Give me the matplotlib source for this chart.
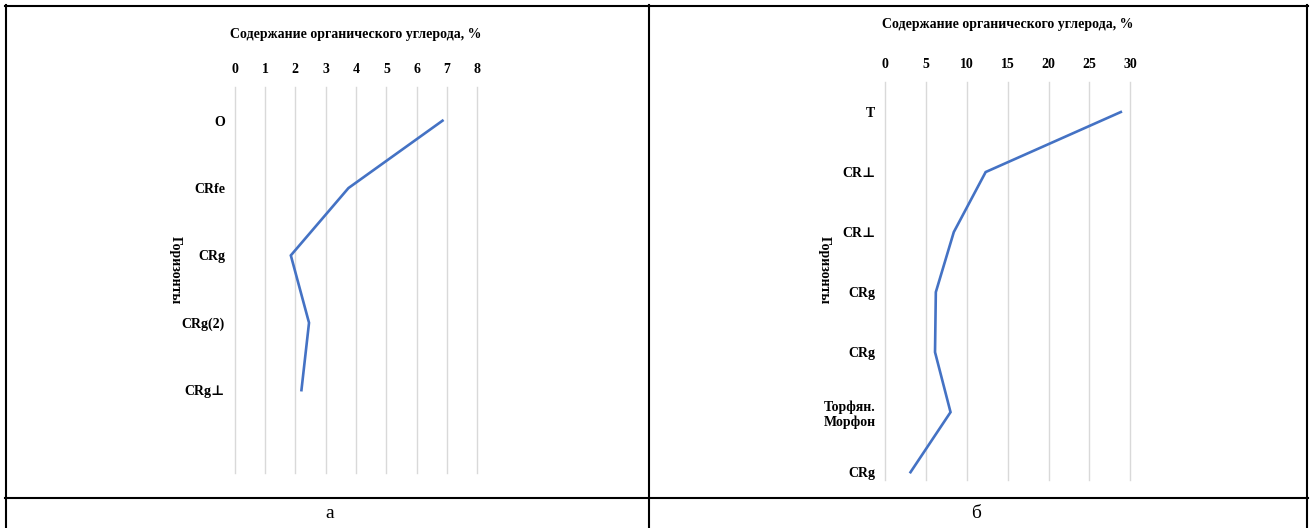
import matplotlib
matplotlib.use("Agg")
import matplotlib.pyplot as plt
from matplotlib.lines import Line2D

plt.rcParams['font.family'] = ['Liberation Serif', 'DejaVu Serif']

TITLE = "Содержание органического углерода, %"
YLABEL = "Горизонты"

# panel a
horizons_a = ["O", "CRfe", "CRg", "CRg(2)", "CRg⊥"]
carbon_a = [6.85, 3.75, 1.85, 2.45, 2.2]
xticks_a = [0, 1, 2, 3, 4, 5, 6, 7, 8]

# panel b
horizons_b = ["T", "CR⊥", "CR⊥", "CRg", "CRg", "Торфян.\nМорфон", "CRg"]
carbon_b = [28.85, 12.3, 8.4, 6.2, 6.1, 8.0, 3.1]
xticks_b = [0, 5, 10, 15, 20, 25, 30]

W, H = 1310, 528
fig = plt.figure(figsize=(W / 100, H / 100), dpi=100)


def px_axes(x0, x1, y0, y1):
    return fig.add_axes([x0 / W, 1 - y1 / H, (x1 - x0) / W, (y1 - y0) / H])


def draw_panel(ax, labels, values, ticks, ybottom, tick_pad, title_pad):
    pos = list(range(len(labels)))
    ax.plot(values, pos, color="#4472C4", lw=1.9, solid_joinstyle="miter")
    ax.set_xlim(ticks[0], ticks[-1])
    ax.set_ylim(ybottom, -0.5)
    ax.set_xticks(ticks)
    ax.set_yticks(pos)
    ax.set_yticklabels(labels)
    ax.xaxis.tick_top()
    ax.tick_params(length=0, labelsize=10)
    ax.tick_params(axis="x", pad=tick_pad)
    ax.tick_params(axis="y", pad=7)
    for t in ax.get_xticklabels() + ax.get_yticklabels():
        t.set_fontweight("bold")
    for s in ax.spines.values():
        s.set_visible(False)
    ax.grid(axis="x", color="#d9d9d9", lw=1)
    for g in ax.get_xgridlines():
        g.set_clip_on(False)
    ax.set_axisbelow(True)
    ax.set_title(TITLE, fontsize=10, fontweight="bold", pad=title_pad)


ax_a = px_axes(234.7, 477.4, 87, 473)
draw_panel(ax_a, horizons_a, carbon_a, xticks_a, 5.23, 8, 35)
ax_a.text(-0.245, 0.526, YLABEL, rotation=270, ha="center", va="center",
          fontsize=10, fontweight="bold", transform=ax_a.transAxes)

ax_b = px_axes(885.2, 1130.2, 82, 480)
draw_panel(ax_b, horizons_b, carbon_b, xticks_b, 6.13, 8, 39)
ax_b.text(-0.25, 0.528, YLABEL, rotation=270, ha="center", va="center",
          fontsize=10, fontweight="bold", transform=ax_b.transAxes)

# table frame around the two charts
def hline(y, x0, x1, lw=1.5):
    fig.add_artist(Line2D([x0 / W, x1 / W], [1 - y / H, 1 - y / H], color="black", lw=lw))


def vline(x, y0, y1, lw=1.5):
    fig.add_artist(Line2D([x / W, x / W], [1 - y0 / H, 1 - y1 / H], color="black", lw=lw))


hline(6, 5, 1308)
hline(497.5, 5, 1308)
vline(6, 5, 528)
vline(649, 5, 528)
vline(1307, 5, 528)

fig.text(330 / W, 1 - 513 / H, "а", ha="center", va="center", fontsize=14)
fig.text(976 / W, 1 - 513 / H, "б", ha="center", va="center", fontsize=14)

fig.savefig("out.png", dpi=100)
